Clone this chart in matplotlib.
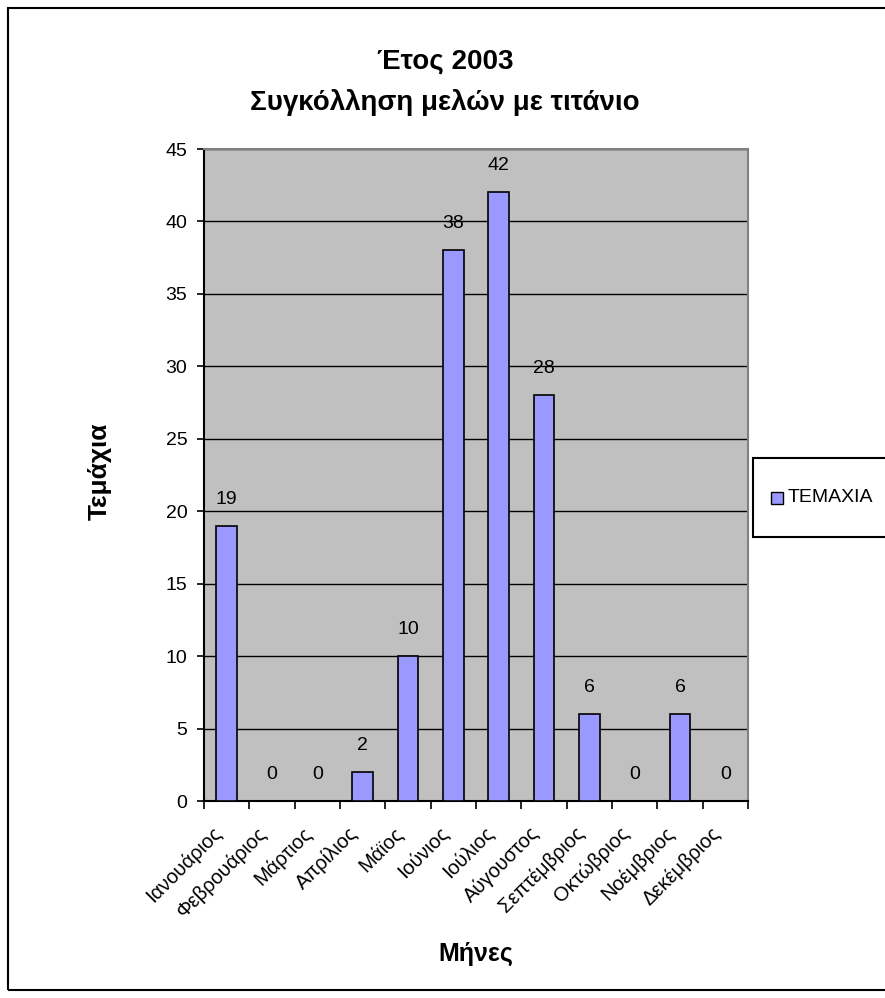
import numpy as np
import matplotlib.pyplot as plt
from matplotlib.patches import Rectangle

# Datos
meses = ['Ιανουάριος', 'Φεβρουάριος', 'Μάρτιος', 'Απρίλιος', 'Μάϊος', 'Ιούνιος',
         'Ιούλιος', 'Αύγουστος', 'Σεπτέμβριος', 'Οκτώβριος', 'Νοέμβριος', 'Δεκέμβριος']
temaxia = [19, 0, 0, 2, 10, 38, 42, 28, 6, 0, 6, 0]
serie = 'ΤΕΜΑΧΙΑ'

plt.rcParams['font.family'] = ['Liberation Sans', 'DejaVu Sans']

W, H = 885, 998
fig = plt.figure(figsize=(W / 100, H / 100), dpi=100)

# marco exterior
fig.patches.append(Rectangle((8 / W, 8 / H), 1.0, (H - 16) / H, transform=fig.transFigure,
                             fill=False, edgecolor='black', linewidth=1.5))

# area del grafico
ax = fig.add_axes([204 / W, 1 - 801 / H, 544 / W, 652 / H])
ax.set_facecolor('#C0C0C0')

x = np.arange(len(meses))
bars = ax.bar(x, temaxia, width=0.45, color='#9999FF', edgecolor='black', linewidth=1.2, zorder=3)

ax.set_xlim(-0.5, len(meses) - 0.5)
ax.set_ylim(0, 45)
ax.set_yticks(range(0, 46, 5))
ax.yaxis.grid(True, color='black', linewidth=1, zorder=1)
ax.set_axisbelow(True)

# ticks entre categorias (estilo Excel)
ax.set_xticks(np.arange(-0.5, len(meses)), minor=False)
ax.set_xticklabels([])
ax.set_xticks(x - 0.18, minor=True)
ax.set_xticklabels(meses, minor=True, rotation=45, ha='right', va='center',
                   rotation_mode='anchor', fontsize=14.5)
ax.tick_params(axis='x', which='minor', length=0, pad=21)
ax.tick_params(axis='x', which='major', length=6, width=1.2, direction='out')
ax.tick_params(axis='y', length=5, width=1.2, direction='out', labelsize=14, pad=7)

for s in ['top', 'right']:
    ax.spines[s].set_color('#808080')
    ax.spines[s].set_linewidth(1.5)
for s in ['left', 'bottom']:
    ax.spines[s].set_color('black')
    ax.spines[s].set_linewidth(1.5)

# etiquetas de datos
for xi, v in zip(x, temaxia):
    ax.annotate(str(v), (xi, v), xytext=(0, 13), textcoords='offset points',
                ha='center', va='bottom', fontsize=14)

ax.set_ylabel('Τεμάχια', fontsize=19, fontweight='bold', va='center', ha='center')
ax.yaxis.set_label_coords(-0.191, 0.505)
ax.set_xlabel('Μήνες', fontsize=18, fontweight='bold', va='center', ha='center')
ax.xaxis.set_label_coords(0.5, -0.235)

fig.text(445 / W, 1 - 62 / H, 'Έτος 2003', ha='center', va='center', fontsize=20, fontweight='bold')
fig.text(445 / W, 1 - 102 / H, 'Συγκόλληση μελών με τιτάνιο', ha='center', va='center',
         fontsize=20, fontweight='bold')

# leyenda (recortada en el borde derecho)
fig.patches.append(Rectangle((753 / W, 1 - 537 / H), 200 / W, 79 / H, transform=fig.transFigure,
                             facecolor='white', edgecolor='black', linewidth=1.5))
fig.patches.append(Rectangle((771 / W, 1 - 504 / H), 12 / W, 12 / H, transform=fig.transFigure,
                             facecolor='#9999FF', edgecolor='black', linewidth=1))
fig.text(788 / W, 1 - 498 / H, serie, ha='left', va='center', fontsize=14)

fig.savefig('out.png', dpi=100)
